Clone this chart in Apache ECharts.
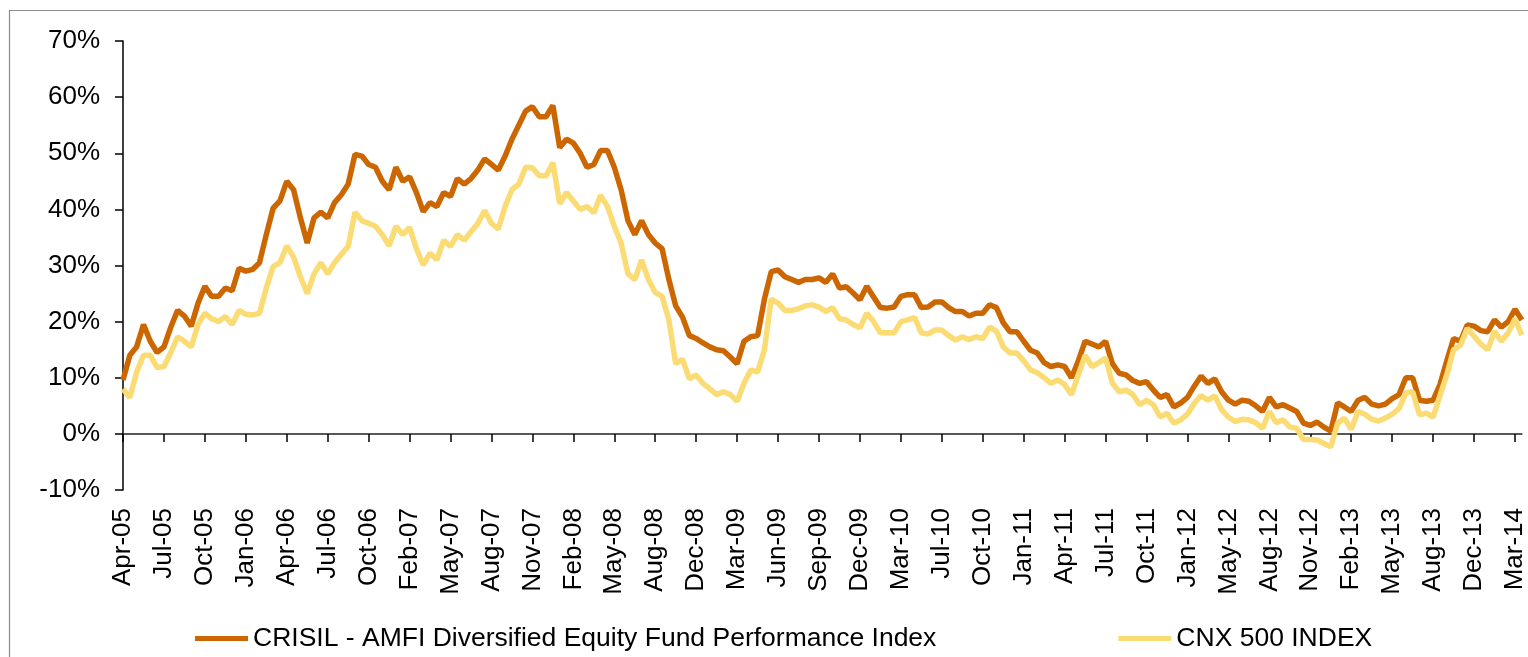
<!DOCTYPE html>
<html>
<head>
<meta charset="utf-8">
<script src="https://cdn.jsdelivr.net/npm/echarts@6/dist/echarts.min.js"></script>
<style>
  html, body { margin: 0; padding: 0; background: #fff; }
  #chart { width: 1528px; height: 657px; }
</style>
</head>
<body>
<div id="chart"></div>
<script>
// x-axis labels, one every 6 sample points
const tickLabels = ['Apr-05', 'Jul-05', 'Oct-05', 'Jan-06', 'Apr-06', 'Jul-06', 'Oct-06', 'Feb-07', 'May-07',
  'Aug-07', 'Nov-07', 'Feb-08', 'May-08', 'Aug-08', 'Dec-08', 'Mar-09', 'Jun-09', 'Sep-09', 'Dec-09',
  'Mar-10', 'Jul-10', 'Oct-10', 'Jan-11', 'Apr-11', 'Jul-11', 'Oct-11', 'Jan-12', 'May-12', 'Aug-12',
  'Nov-12', 'Feb-13', 'May-13', 'Aug-13', 'Dec-13', 'Mar-14'];
const pointsPerTick = 6;

const seriesNames = ['CRISIL - AMFI Diversified Equity Fund Performance Index', 'CNX 500 INDEX'];

// % returns
const crisil = [
  9.6, 14.0, 15.5, 19.5, 16.5, 14.5, 15.5, 19.0, 22.0, 21.0,
  19.2, 23.3, 26.3, 24.5, 24.5, 26.0, 25.5, 29.5, 29.0, 29.3,
  30.5, 35.5, 40.2, 41.5, 45.0, 43.5, 38.5, 34.0, 38.5, 39.5,
  38.5, 41.2, 42.6, 44.5, 49.8, 49.5, 48.0, 47.5, 45.0, 43.5,
  47.5, 45.0, 45.8, 43.0, 39.6, 41.2, 40.5, 43.0, 42.3, 45.5,
  44.5, 45.5, 47.0, 49.0, 48.0, 47.0, 49.5, 52.5, 55.0, 57.5,
  58.3, 56.5, 56.5, 58.5, 51.0, 52.5, 51.8, 50.0, 47.5, 48.0,
  50.5, 50.5, 47.5, 43.5, 38.0, 35.5, 38.0, 35.5, 34.0, 33.0,
  27.5, 22.8, 20.8, 17.5, 17.0, 16.2, 15.5, 15.0, 14.8, 13.7,
  12.5, 16.5, 17.3, 17.5, 24.0, 28.9, 29.2, 28.0, 27.5, 27.0,
  27.5, 27.5, 27.8, 27.0, 28.5, 26.0, 26.2, 25.1, 23.9, 26.3,
  24.4, 22.5, 22.4, 22.6, 24.5, 24.8, 24.8, 22.5, 22.6, 23.5,
  23.5, 22.5, 21.8, 21.8, 21.0, 21.5, 21.5, 23.0, 22.5, 19.8,
  18.2, 18.2, 16.5, 14.9, 14.4, 12.7, 12.0, 12.3, 12.0, 10.0,
  13.0, 16.5, 16.0, 15.5, 16.5, 12.5, 10.8, 10.5, 9.5, 9.0,
  9.3, 7.8, 6.5, 7.0, 4.8, 5.5, 6.5, 8.5, 10.3, 9.0,
  9.8, 7.5, 6.0, 5.3, 6.0, 5.8, 5.0, 4.0, 6.5, 4.8,
  5.2, 4.6, 4.0, 1.9, 1.5, 2.1, 1.2, 0.5, 5.5, 4.8,
  4.0, 6.0, 6.5, 5.3, 5.0, 5.3, 6.3, 7.0, 10.0, 10.0,
  6.0, 5.8, 6.0, 8.8, 13.0, 17.0, 16.5, 19.4, 19.2, 18.4,
  18.2, 20.3, 19.0, 20.0, 22.2, 20.3
];

const cnx500 = [
  8.0, 6.5, 11.0, 14.0, 14.0, 11.8, 12.0, 14.5, 17.3, 16.5,
  15.5, 19.5, 21.5, 20.5, 20.0, 20.9, 19.5, 22.0, 21.3, 21.2,
  21.5, 26.0, 29.8, 30.5, 33.5, 31.5, 28.0, 25.0, 28.5, 30.5,
  28.5, 30.5, 32.0, 33.4, 39.5, 38.0, 37.5, 37.0, 35.5, 33.5,
  37.0, 35.5, 36.8, 33.0, 30.1, 32.2, 31.0, 34.5, 33.4, 35.5,
  34.5, 36.0, 37.5, 39.8, 37.5, 36.5, 40.5, 43.5, 44.5, 47.5,
  47.4, 46.0, 46.0, 48.3, 41.0, 43.0, 41.5, 40.0, 40.5, 39.4,
  42.5, 40.5, 37.0, 34.0, 28.5, 27.5, 31.0, 27.5, 25.2, 24.5,
  20.3, 12.5, 13.3, 9.8, 10.5, 9.0, 8.0, 7.0, 7.5, 7.0,
  5.8, 9.0, 11.4, 11.0, 15.0, 24.0, 23.3, 22.0, 22.0, 22.3,
  22.8, 23.0, 22.6, 21.8, 22.5, 20.5, 20.3, 19.5, 18.9, 21.5,
  20.0, 18.0, 18.0, 18.0, 20.0, 20.3, 20.7, 18.0, 17.8, 18.5,
  18.5, 17.5, 16.7, 17.3, 16.8, 17.3, 17.0, 19.0, 18.3, 15.5,
  14.4, 14.4, 13.0, 11.4, 10.9, 10.0, 9.0, 9.6, 8.8, 7.0,
  10.5, 14.0, 12.0, 12.7, 13.5, 9.0, 7.5, 7.8, 7.0, 5.2,
  6.0, 5.2, 3.0, 3.7, 1.9, 2.5, 3.5, 5.5, 6.8, 6.0,
  6.8, 4.3, 3.0, 2.2, 2.6, 2.5, 2.0, 1.0, 4.0, 2.0,
  2.5, 1.2, 1.0, -1.0, -1.0, -1.1, -1.7, -2.3, 1.9, 2.8,
  0.8, 4.0, 3.5, 2.6, 2.3, 2.8, 3.5, 4.5, 7.3, 7.5,
  3.4, 3.7, 3.0, 6.8, 10.5, 15.0, 15.8, 18.8, 17.4, 16.0,
  15.0, 18.3, 16.5, 18.0, 20.5, 17.6
];

// one category per sample point; only every 6th carries a visible label
const categories = crisil.map((_, i) => {
  const base = tickLabels[Math.floor(i / pointsPerTick)];
  return i % pointsPerTick === 0 ? base : base + ' #' + (i % pointsPerTick);
});

const chart = echarts.init(document.getElementById('chart'));
const font = 'Liberation Sans, Arial, sans-serif';

const option = {
  animation: false,
  backgroundColor: '#fff',
  graphic: [{
    type: 'rect',
    shape: { x: 9.5, y: 10.5, width: 1600, height: 700 },
    style: { fill: 'none', stroke: '#8c8c8c', lineWidth: 1.2 },
    silent: true
  }],
  grid: { left: 123, right: 3, top: 41, bottom: 167, containLabel: false },
  legend: {
    left: 190,
    top: 620,
    itemWidth: 53,
    itemHeight: 5,
    itemGap: 182,
    icon: 'rect',
    textStyle: { fontFamily: font, fontSize: 26.5, color: '#000' },
    data: seriesNames
  },
  xAxis: [
    {
      type: 'category',
      data: categories,
      boundaryGap: false,
      position: 'bottom',
      axisLine: { show: false, onZero: false },
      axisTick: { show: false },
      axisLabel: {
        interval: pointsPerTick - 1,
        rotate: 90,
        margin: 18,
        color: '#000',
        fontFamily: font,
        fontSize: 26
      },
      splitLine: { show: false }
    },
    {
      // zero line with ticks
      type: 'category',
      data: categories,
      boundaryGap: false,
      position: 'bottom',
      axisLine: { show: true, onZero: true, lineStyle: { color: '#222', width: 1.5 } },
      axisTick: { show: true, interval: pointsPerTick - 1, length: 8, lineStyle: { color: '#000', width: 1.5 } },
      axisLabel: { show: false },
      splitLine: { show: false }
    }
  ],
  yAxis: {
    type: 'value',
    min: -10,
    max: 70,
    interval: 10,
    axisLine: { show: true, lineStyle: { color: '#000', width: 1.5 } },
    axisTick: { show: true, length: 8, lineStyle: { color: '#000', width: 1.5 } },
    axisLabel: {
      formatter: '{value}%',
      margin: 23,
      color: '#000',
      fontFamily: font,
      fontSize: 26
    },
    splitLine: { show: false }
  },
  series: [
    {
      name: seriesNames[0],
      type: 'line',
      data: crisil,
      showSymbol: false,
      symbol: 'none',
      lineStyle: { color: '#CC6600', width: 5.5 },
      itemStyle: { color: '#CC6600' }
    },
    {
      name: seriesNames[1],
      type: 'line',
      data: cnx500,
      showSymbol: false,
      symbol: 'none',
      lineStyle: { color: '#FBDC74', width: 5.5 },
      itemStyle: { color: '#FBDC74' }
    }
  ]
};

chart.setOption(option);
</script>
</body>
</html>
